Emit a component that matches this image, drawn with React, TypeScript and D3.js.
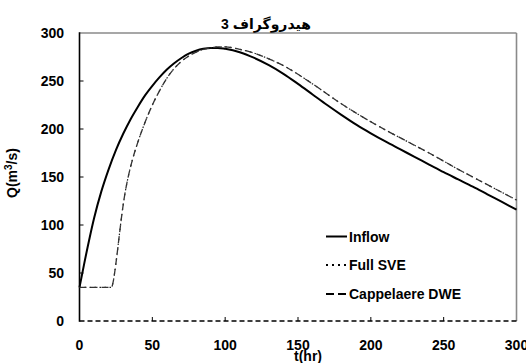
import React from "react";
import * as d3 from "d3";

const tInflow = [0, 3, 7, 10, 15, 20, 25, 30, 35, 40, 45, 50, 55, 60, 65, 70, 75, 80, 85, 90, 95, 100, 110, 120, 130, 140, 150, 160, 170, 180, 190, 200, 210, 220, 230, 240, 250, 260, 270, 280, 290, 300];
const qInflow = [35, 58, 87, 107, 135, 158, 178, 195, 210, 223, 235, 245, 254, 262, 268.5, 274, 278.5, 281.5, 283.5, 284.5, 284.5, 283.5, 280, 274, 266.5, 257.5, 247, 236, 225, 214.5, 204.5, 195.5, 187, 179, 171, 163, 155, 147.5, 140, 132, 124, 116];

const tRouted = [0, 10, 20, 22, 23, 25, 27, 29, 31, 33, 36, 40, 45, 50, 55, 60, 65, 70, 75, 80, 85, 90, 95, 100, 110, 120, 130, 140, 150, 160, 170, 180, 190, 200, 210, 220, 230, 240, 250, 260, 270, 280, 290, 300];
const qFullSVE = [35, 35, 35, 35, 40, 60, 85, 110, 131, 147, 166, 186, 207, 225, 240, 253, 263, 270.5, 276, 280, 283, 284.5, 285.5, 285.5, 283, 279, 273, 266, 257, 247, 236.5, 226, 216.5, 207.5, 199, 191, 183, 175, 166.5, 158, 150, 142, 134, 126];
const qDWE = [35, 35, 35, 35, 40, 60, 85, 110, 131, 147, 166, 186, 207, 225, 240, 253, 263, 270.5, 276, 280, 283, 284.5, 285.5, 285.5, 283, 279, 273, 266, 257, 247, 236.5, 226, 216.5, 207.5, 199, 191, 183, 175, 166.5, 158, 150, 142, 134, 126];

const xTicks = [0, 50, 100, 150, 200, 250, 300];
const yTicks = [0, 50, 100, 150, 200, 250, 300];
const legendLabels = ["Inflow", "Full SVE", "Cappelaere DWE"];
const title = "هیدروگراف 3";

const FONT = "'Liberation Sans', Arial, 'DejaVu Sans', sans-serif";

export default function App() {
  const x = d3.scaleLinear().domain([0, 300]).range([79.5, 516.5]);
  const y = d3.scaleLinear().domain([0, 300]).range([321, 33]);
  const line = d3
    .line<[number, number]>()
    .x((d) => x(d[0]))
    .y((d) => y(d[1]))
    .curve(d3.curveMonotoneX);

  const inflowPath = line(tInflow.map((t, i) => [t, qInflow[i]]) as [number, number][]) || "";
  const svePath = line(tRouted.map((t, i) => [t, qFullSVE[i]]) as [number, number][]) || "";
  const dwePath = line(tRouted.map((t, i) => [t, qDWE[i]]) as [number, number][]) || "";

  const styles = [
    { stroke: "#000", width: 2, dash: "none" },
    { stroke: "#222", width: 1.2, dash: "1.5,3.5" },
    { stroke: "#333", width: 1.3, dash: "7,4" },
  ];
  const legendY = [236.5, 265, 294];

  return (
    <svg width={526} height={363} style={{ position: "absolute", left: 0, top: 0, background: "#fff" }} fontFamily={FONT}>
      <rect x={0} y={0} width={526} height={363} fill="#fff" />
      <line x1={x(0)} x2={x(300)} y1={y(300)} y2={y(300)} stroke="#8a8a8a" strokeWidth={1.6} />
      <line x1={x(300)} x2={x(300)} y1={y(300)} y2={y(0)} stroke="#8a8a8a" strokeWidth={1.6} />
      <line x1={x(0)} x2={x(300)} y1={y(0)} y2={y(0)} stroke="#000" strokeWidth={1.5} strokeDasharray="5,3" />
      <line x1={x(0)} x2={x(0)} y1={y(300) - 0.8} y2={y(0) + 0.8} stroke="#000" strokeWidth={1.6} />

      {xTicks.map((t) => (
        <g key={"xt" + t}>
          {t > 0 && t < 300 && <line x1={x(t)} x2={x(t)} y1={y(0)} y2={y(0) - 4} stroke="#000" strokeWidth={1} />}
          <text x={x(t)} y={350} textAnchor="middle" fontSize={14} fontWeight="bold">{t}</text>
        </g>
      ))}
      {yTicks.map((v) => (
        <g key={"yt" + v}>
          {v > 0 && v < 300 && <line x1={x(0)} x2={x(0) + 4} y1={y(v)} y2={y(v)} stroke="#000" strokeWidth={1} />}
          <text x={64} y={y(v) + 5} textAnchor="end" fontSize={14} fontWeight="bold">{v}</text>
        </g>
      ))}

      <path d={inflowPath} fill="none" stroke={styles[0].stroke} strokeWidth={styles[0].width} />
      <path d={svePath} fill="none" stroke={styles[1].stroke} strokeWidth={styles[1].width} strokeDasharray={styles[1].dash} />
      <path d={dwePath} fill="none" stroke={styles[2].stroke} strokeWidth={styles[2].width} strokeDasharray={styles[2].dash} />

      {legendLabels.map((lab, i) => (
        <g key={lab}>
          <line x1={326} x2={347} y1={legendY[i]} y2={legendY[i]} stroke="#000" strokeWidth={i === 0 ? 2 : 1.8} strokeDasharray={i === 0 ? "none" : i === 1 ? "2,4" : "8,4"} />
          <text x={349} y={legendY[i] + 5} fontSize={14} fontWeight="bold">{lab}</text>
        </g>
      ))}

      <text x={266} y={29} textAnchor="middle" fontSize={14} fontWeight="bold" direction="rtl" style={{ unicodeBidi: "embed" }}>{title}</text>
      <text x={308} y={361} textAnchor="middle" fontSize={14} fontWeight="bold">t(hr)</text>
      <text transform={`translate(17,${173}) rotate(-90)`} textAnchor="middle" fontSize={14} fontWeight="bold">
        Q(m<tspan baselineShift="super" fontSize={10}>3</tspan>/s)
      </text>
    </svg>
  );
}
